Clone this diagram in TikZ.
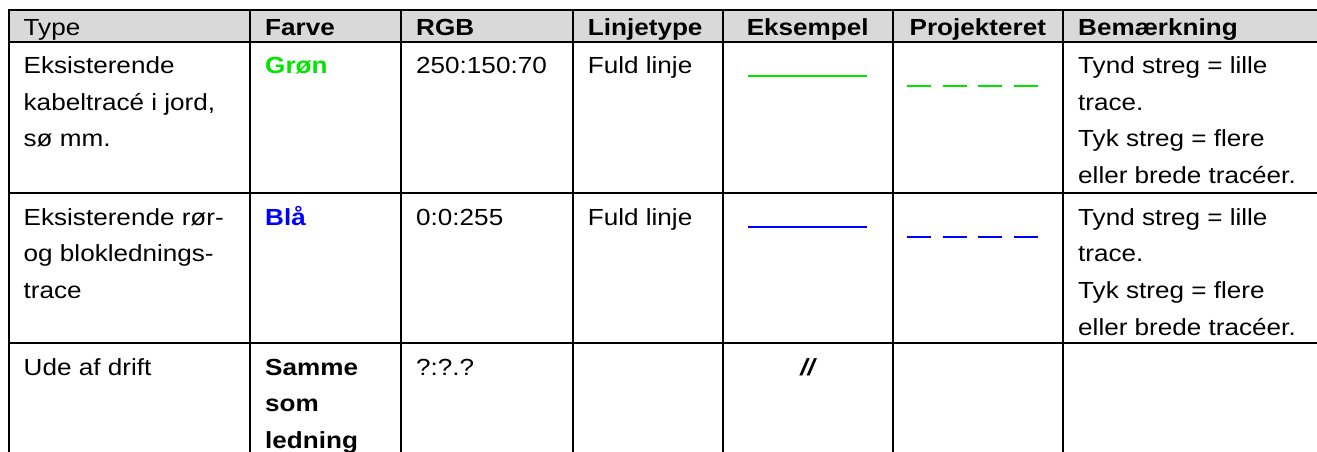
\documentclass[tikz,border=0pt]{standalone}
\usepackage{fontspec}
\setmainfont{Liberation Sans}[FakeStretch=1.12]
\usetikzlibrary{positioning}

\definecolor{hovedgraa}{RGB}{217,217,217}
\definecolor{gron}{RGB}{0,230,0}
\definecolor{blaa}{RGB}{0,0,255}
\newcommand{\tekst}{\fontsize{23.3}{28}\selectfont}

\tikzset{
  txt/.style={anchor=base west, inner sep=0pt, font=\tekst},
  ctxt/.style={txt, anchor=base},
  fed/.style={font=\tekst\bfseries},
  gitter/.style={line width=2pt, line cap=rect},
  heltrukket/.style={line width=1.7pt},
  stiplet/.style={line width=2.3pt, dash pattern=on 24pt off 11.5pt}
}

\begin{document}
\begin{tikzpicture}[x=1pt, y=-1pt]
  \clip (0,0) rectangle (1317,451);

  % header
  \fill[hovedgraa] (8.5,10) rectangle (1320,41.7);
  \node[txt] (hType) at (23.5,35) {Type};
  \node[txt, fed] (hFarve) at (265,35) {Farve};
  \node[txt, fed] (hRGB) at (416,35) {RGB};
  \node[txt, fed] (hLinje) at (587.7,35) {Linjetype};
  \node[ctxt, fed] (hEks) at (807.7,35) {Eksempel};
  \node[ctxt, fed] (hProj) at (977.8,35) {Projekteret};
  \node[txt, fed] (hBem) at (1078,35) {Bemærkning};

  % kabeltracé
  \foreach \linje [count=\i from 0] in {Eksisterende, {kabeltracé i jord,}, sø mm.}
    \node[txt] (type1-\i) at (23.5,73.4+36.7*\i) {\linje};
  \node[txt, fed, text=gron] (farve1) at (265,73.4) {Grøn};
  \node[txt] (rgb1) at (416,73.4) {250:150:70};
  \node[txt] (linje1) at (587.7,73.4) {Fuld linje};
  \coordinate (eks1a) at (748.3,76);
  \coordinate (eks1b) at (866.7,76);
  \coordinate (proj1a) at (907.3,85.7);
  \coordinate (proj1b) at (1037.7,85.7);
  \draw[heltrukket, gron] (eks1a) -- (eks1b);
  \draw[stiplet, gron] (proj1a) -- (proj1b);

  % rør og blokledning
  \foreach \linje [count=\i from 0] in {Eksisterende rør-, og bloklednings-, trace}
    \node[txt] (type2-\i) at (23.5,225+36.7*\i) {\linje};
  \node[txt, fed, text=blaa] (farve2) at (265,225) {Blå};
  \node[txt] (rgb2) at (416,225) {0:0:255};
  \node[txt] (linje2) at (587.7,225) {Fuld linje};
  \coordinate (eks2a) at (748.3,226.7);
  \coordinate (eks2b) at (866.7,226.7);
  \coordinate (proj2a) at (907.3,236.7);
  \coordinate (proj2b) at (1037.7,236.7);
  \draw[heltrukket, blaa] (eks2a) -- (eks2b);
  \draw[stiplet, blaa] (proj2a) -- (proj2b);

  % bemaerkning, ens for begge
  \foreach \rtop/\r in {41.7/1, 193.3/2}
    \foreach \linje [count=\i from 0] in {Tynd streg = lille, trace., Tyk streg = flere, eller brede tracéer.}
      \node[txt] (bem\r-\i) at (1078,\rtop+31.7+36.7*\i) {\linje};

  % ude af drift
  \node[txt] (type3) at (23.5,375) {Ude af drift};
  \foreach \linje [count=\i from 0] in {Samme, som, ledning}
    \node[txt, fed] (farve3-\i) at (265,375+36.7*\i) {\linje};
  \node[txt] (rgb3) at (416,375) {?:?.?};
  \node[ctxt, font=\tekst\bfseries\itshape] (eks3) at (807.7,375) {//};

  % gitter
  \foreach \ry in {10,41.7,193.3,343.3}
    \draw[gitter] (8.5,\ry) -- (1320,\ry);
  \foreach \kx in {8.5,250,401,572.7,722.7,892.7,1063}
    \draw[gitter] (\kx,10) -- (\kx,455);
\end{tikzpicture}
\end{document}
